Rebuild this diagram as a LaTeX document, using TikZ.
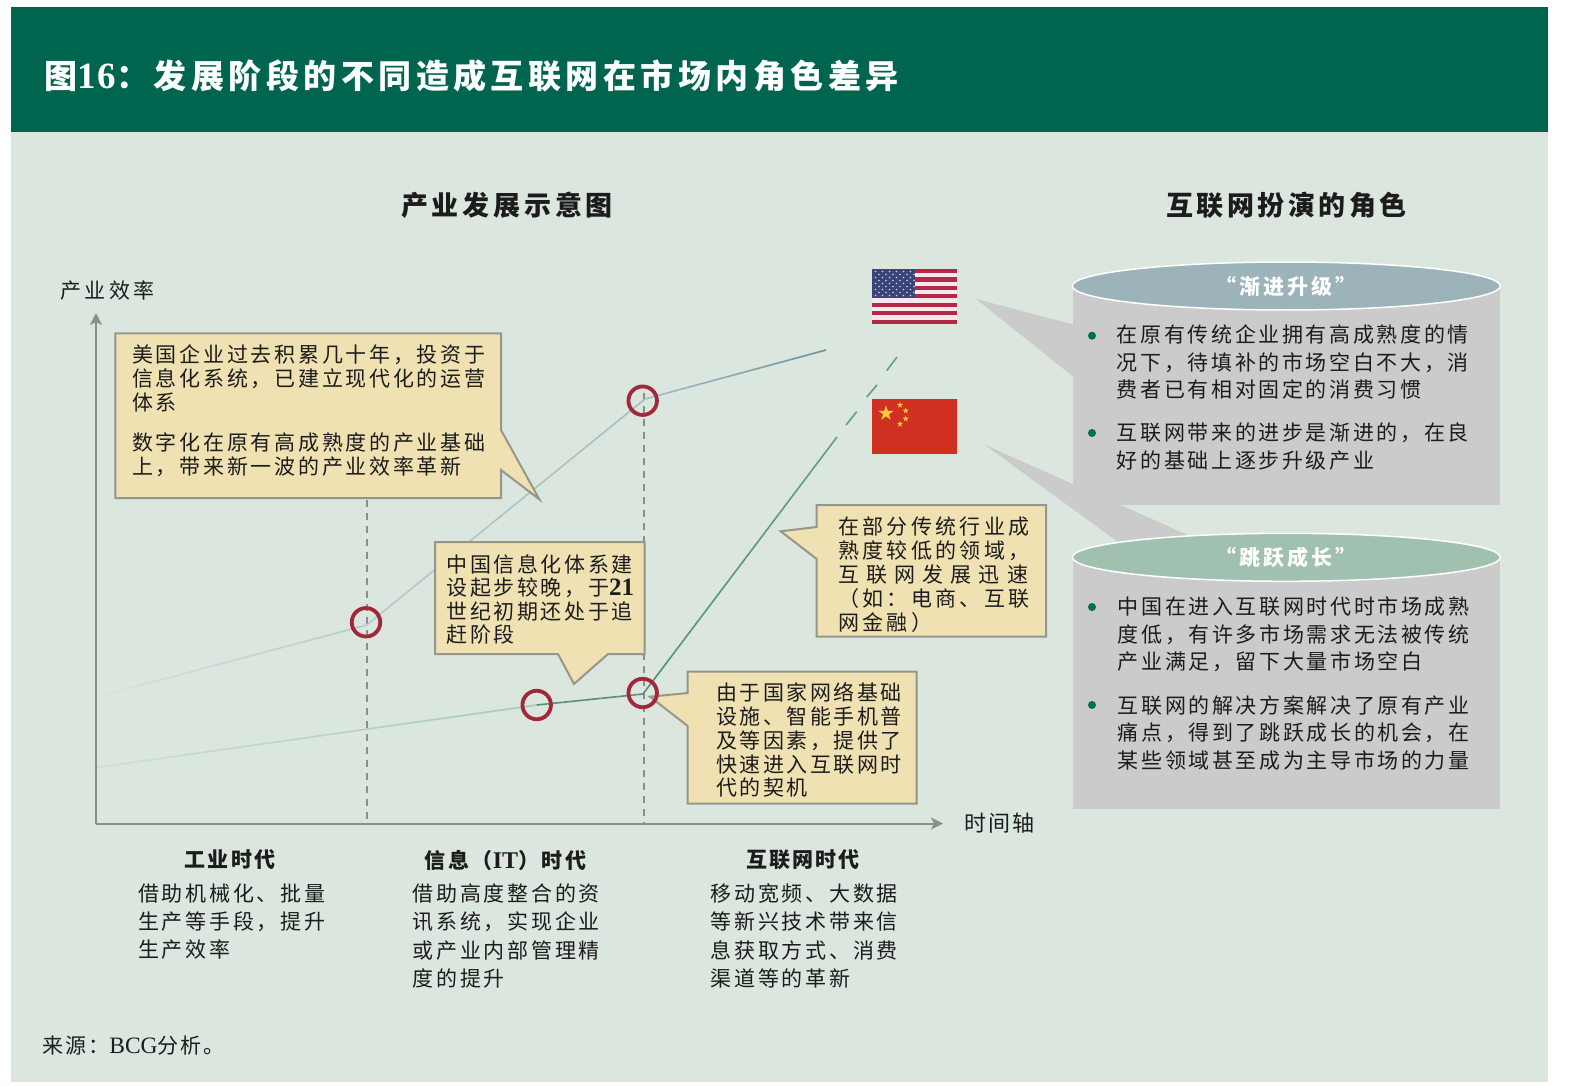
\documentclass[tikz,border=0pt]{standalone}
\usepackage{fontspec}
\setmainfont{Noto Sans CJK SC}[Kerning=Off,RawFeature={-chws;-palt;-halt}]
\newfontfamily\lat{Liberation Serif}
\usetikzlibrary{arrows.meta,calc,shapes.geometric}
\newcommand\zc{\char"FF0C\relax}
\newcommand\zk{\char"FF1A\relax}
\newcommand\zl{\char"FF08\relax}
\newcommand\zr{\char"FF09\relax}
\definecolor{bandc}{RGB}{0,101,78}
\definecolor{bodyc}{RGB}{218,230,222}
\definecolor{ink}{RGB}{28,28,28}
\definecolor{axisc}{RGB}{138,143,138}
\definecolor{boxf}{RGB}{239,225,178}
\definecolor{boxs}{RGB}{150,150,140}
\definecolor{panelc}{RGB}{203,203,203}
\definecolor{ellA}{RGB}{156,179,185}
\definecolor{ellB}{RGB}{160,193,175}
\definecolor{ringc}{RGB}{160,40,58}
\definecolor{bulc}{RGB}{0,110,85}
\definecolor{usred}{RGB}{178,40,70}
\definecolor{uswht}{RGB}{246,232,236}
\definecolor{usblu}{RGB}{58,68,120}
\definecolor{cnred}{RGB}{207,48,34}
\definecolor{cnyel}{RGB}{250,205,50}
\definecolor{ua}{RGB}{214,226,226}
\definecolor{ub}{RGB}{182,201,206}
\definecolor{uc}{RGB}{166,188,194}
\definecolor{ud}{RGB}{105,142,158}
\definecolor{ca}{RGB}{204,224,213}
\definecolor{cb}{RGB}{165,200,180}
\definecolor{cc}{RGB}{85,145,120}
\definecolor{cd}{RGB}{95,160,135}
\newcommand\fs[2]{\fontsize{#1}{#2}\selectfont}
\newcommand\gline[4]{%
  \foreach \i [evaluate=\i as \p using {100-\i*5}, evaluate=\i as \q using {(\i+1)/20}, evaluate=\i as \r using {\i/20}] in {0,...,19}
    \draw[line width=1.6pt,color=#3!\p!#4] ($(#1)!\r!(#2)$) -- ($(#1)!\q!(#2)$);}
\tikzset{
  tx/.style n args={3}{anchor=west,inner sep=0pt,align=left,text=ink,font=\fs{#1}{#2}\addfontfeature{LetterSpace=#3}},
  cx/.style n args={2}{anchor=center,inner sep=0pt,align=center,text=ink,font=\fs{#1}{#1}\bfseries\addfontfeature{LetterSpace=#2}},
  callout/.style={fill=boxf,draw=boxs,line width=2pt,line join=miter},
  axisline/.style={draw=axisc,line width=2pt,-{Stealth[length=12pt,width=12pt,inset=3pt]}},
  guide/.style={draw=axisc,line width=1.6pt,dash pattern=on 7pt off 6pt},
  ring/.style={circle,draw=ringc,line width=3.8pt,fill=none,minimum size=28.5pt,inner sep=0pt},
  bullet/.style={circle,fill=bulc,minimum size=8pt,inner sep=0pt},
  capsule/.style={ellipse,draw=white,line width=1.5pt,minimum width=428pt,minimum height=48pt,inner sep=0pt,text=white,font=\fs{21}{21}\bfseries\addfontfeature{LetterSpace=14}},
  yellowstar/.style={star,star points=5,star point ratio=2.618,fill=cnyel,inner sep=0pt},
}
\begin{document}
\begin{tikzpicture}[x=1pt,y=-1pt]
\useasboundingbox (0,0) rectangle (1576,1086);
\fill[white] (0,0) rectangle (1576,1086);
\fill[bodyc] (11,7) rectangle (1548,1082);
\fill[bandc] (11,7) rectangle (1548,132);

% coordinates of the curves
\coordinate (u0) at (96,697);
\coordinate (u1) at (366.7,625);
\coordinate (u2) at (645,399);
\coordinate (u3) at (826,350);
\coordinate (c0) at (93,768);
\coordinate (c1) at (536.7,705);
\coordinate (c2) at (643,694);
\coordinate (c3) at (837,437);
\coordinate (d1a) at (846,425);
\coordinate (d1b) at (856.7,411.7);
\coordinate (d2a) at (866.7,397);
\coordinate (d2b) at (877,385);
\coordinate (d3a) at (886.7,370.7);
\coordinate (d3b) at (897,357);
\coordinate (org) at (96,823.5);
\coordinate (ytip) at (96,313);
\coordinate (xtip) at (943,823.5);
\coordinate (g1a) at (366.7,500);
\coordinate (g1b) at (366.7,823);
\coordinate (g2a) at (644,393);
\coordinate (g2b) at (644,823);

\draw[guide] (g1a) -- (g1b);
\draw[guide] (g2a) -- (g2b);
\gline{u0}{u1}{ua}{ub}
\gline{u1}{u2}{ub}{uc}
\gline{u2}{u3}{uc}{ud}
\gline{c0}{c1}{ca}{cb}
\gline{c1}{c2}{cc}{cc}
\gline{c2}{c3}{cc}{cd}
\draw[line width=1.6pt,color=cd] (d1a) -- (d1b);
\draw[line width=1.6pt,color=cd] (d2a) -- (d2b);
\draw[line width=1.6pt,color=cd] (d3a) -- (d3b);
\draw[axisline] (org) -- (ytip);
\draw[axisline] (org) -- (xtip);

% wedges and panels
\fill[panelc] (976,299) -- (1075,325) -- (1075,378) -- cycle;
\fill[panelc] (985,445) -- (1190,536) -- (1190,558) -- (1140,558) -- cycle;
\fill[panelc] (1072.7,285) rectangle (1500,505);
\fill[panelc] (1072.7,557.3) rectangle (1500,808.7);
\node[capsule,fill=ellA] (capA) at (1286.3,286) {“渐进升级”};
\node[capsule,fill=ellB] (capB) at (1286.3,557.3) {“跳跃成长”};

% callouts
\draw[callout] (115.3,333.3) -- (501,333.3) -- (501,430) -- (539.3,499.3) -- (501,470) -- (501,498) -- (115.3,498) -- cycle;
\draw[callout] (435,542) -- (644.7,542) -- (644.7,654) -- (608,654) -- (574,684) -- (558,654) -- (435,654) -- cycle;
\draw[callout] (816.7,505) -- (1046,505) -- (1046,636.7) -- (816.7,636.7) -- (816.7,559) -- (780.7,531.3) -- (816.7,527) -- cycle;
\draw[callout] (687.7,671.7) -- (916.7,671.7) -- (916.7,803.7) -- (687.7,803.7) -- (687.7,726) -- (650,696.7) -- (687.7,693) -- cycle;

% rings
\node[ring] (r1) at (366,622.3) {};
\node[ring] (r2) at (642.7,400.7) {};
\node[ring] (r3) at (536.7,705) {};
\node[ring] (r4) at (642.7,693) {};

% US flag
\foreach \i in {0,1,...,12}{
  \pgfmathsetmacro\ya{269+\i*4.21}
  \pgfmathsetmacro\yb{269+(\i+1)*4.21}
  \pgfmathparse{int(mod(\i,2))}
  \ifnum\pgfmathresult=0 \fill[usred] (872,\ya) rectangle (957,\yb);
  \else \fill[uswht] (872,\ya) rectangle (957,\yb); \fi
}
\fill[usblu] (872,269) rectangle (914.7,298);
\foreach \r in {0,...,8}{
  \foreach \c in {0,...,5}{
    \fill[white!75!usblu] ({875.5+\c*7+mod(\r,2)*3.5},{271.5+\r*3}) circle (0.9pt);
  }
}
% China flag
\fill[cnred] (872,399) rectangle (957,453.7);
\node[yellowstar,minimum size=16pt] (s0) at (886,413.3) {};
\node[yellowstar,minimum size=6.5pt] (s1) at (900,405) {};
\node[yellowstar,minimum size=6.5pt] (s2) at (905.7,410.7) {};
\node[yellowstar,minimum size=6.5pt] (s3) at (905.7,418.7) {};
\node[yellowstar,minimum size=6.5pt] (s4) at (900,424) {};

% bullets
\node[bullet] (b1) at (1092,335.7) {};
\node[bullet] (b2) at (1092,433) {};
\node[bullet] (b3) at (1092,607) {};
\node[bullet] (b4) at (1092,705) {};

% title
\node[anchor=west,inner sep=0pt,text=white,font=\fs{33}{33}\bfseries] (title) at (44,76)
  {图{\lat\fontsize{37}{37}\selectfont\addfontfeature{LetterSpace=6}16}{\addfontfeature{LetterSpace=13.5}\zk 发展阶段的不同造成互联网在市场内角色差异}};

\node[cx={27}{14}] (h1) at (507,205) {产业发展示意图};
\node[cx={27}{13}] (h2) at (1286.5,205) {互联网扮演的角色};
\node[tx={21}{21}{17}] (yl) at (60,291) {产业效率};
\node[tx={22}{22}{9}] (xl) at (964,823) {时间轴};

% callout texts
\node[tx={21}{24}{13}] (t1) at (132,411) {美国企业过去积累几十年\zc 投资于\\信息化系统\zc 已建立现代化的运营\\体系\\[16pt]数字化在原有高成熟度的产业基础\\上\zc 带来新一波的产业效率革新};
\node[tx={21}{23.4}{12}] (t2) at (446.7,599.5) {中国信息化体系建\\设起步较晚\zc 于{\lat\bfseries\fontsize{25}{23.4}\selectfont 21}\\世纪初期还处于追\\赶阶段};
\node[tx={21}{24}{16}] (t3) at (838,574.5) {在部分传统行业成\\熟度较低的领域\zc\\{\addfontfeature{LetterSpace=34}互联网发展迅速}\\\zl 如\zk 电商、互联\\网金融\zr};
\node[tx={21}{23.9}{12}] (t4) at (716,740) {由于国家网络基础\\设施、智能手机普\\及等因素\zc 提供了\\快速进入互联网时\\代的契机};

% panel texts
\node[tx={21}{27.3}{12.5}] (p1) at (1116.7,362) {在原有传统企业拥有高成熟度的情\\况下\zc 待填补的市场空白不大\zc 消\\费者已有相对固定的消费习惯};
\node[tx={21}{27.3}{12.5}] (p2) at (1116.7,446.5) {互联网带来的进步是渐进的\zc 在良\\好的基础上逐步升级产业};
\node[tx={21}{27.3}{12.5}] (p3) at (1117.6,634.5) {中国在进入互联网时代时市场成熟\\度低\zc 有许多市场需求无法被传统\\产业满足\zc 留下大量市场空白};
\node[tx={21}{27.3}{12.5}] (p4) at (1117.6,733) {互联网的解决方案解决了原有产业\\痛点\zc 得到了跳跃成长的机会\zc 在\\某些领域甚至成为主导市场的力量};

% era texts
\node[cx={21}{10}] (e1) at (230,860) {工业时代};
\node[cx={21}{13}] (e2) at (505.5,860) {信息\zl{\lat\bfseries\fontsize{24}{21}\selectfont IT}\zr 时代};
\node[cx={21}{10}] (e3) at (803,860) {互联网时代};
\node[tx={21}{28.3}{13}] (f1) at (138,921.7) {借助机械化、批量\\生产等手段\zc 提升\\生产效率};
\node[tx={21}{28.3}{13}] (f2) at (412.5,936) {借助高度整合的资\\讯系统\zc 实现企业\\或产业内部管理精\\度的提升};
\node[tx={21}{28.3}{13}] (f3) at (710.5,936) {移动宽频、大数据\\等新兴技术带来信\\息获取方式、消费\\渠道等的革新};
\node[tx={21}{21}{10}] (src) at (42,1045.7) {来源\zk{\lat\fontsize{23.5}{21}\selectfont BCG}分析。};
\end{tikzpicture}
\end{document}
